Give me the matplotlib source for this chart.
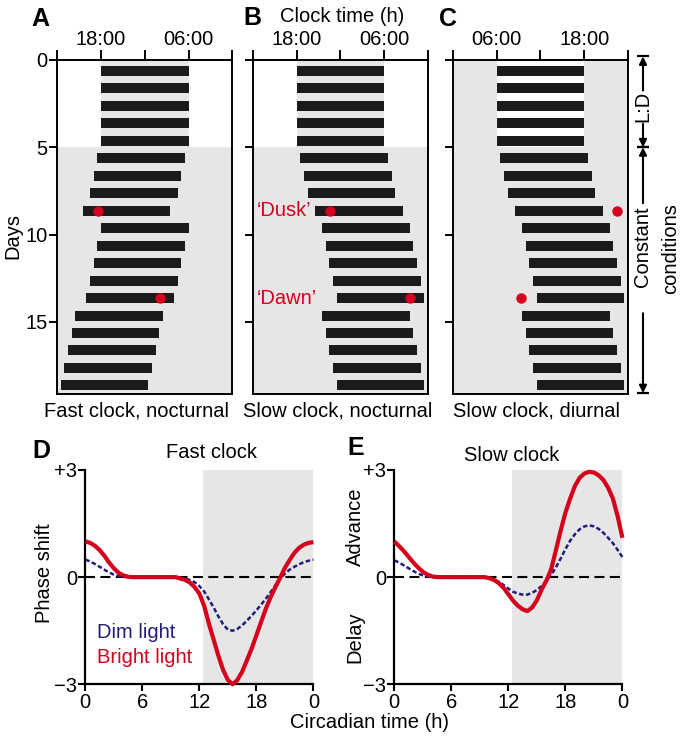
import numpy as np
import matplotlib.pyplot as plt
from matplotlib.transforms import blended_transform_factory

plt.rcParams['font.family'] = ['Liberation Sans', 'DejaVu Sans']
plt.rcParams['font.size'] = 14.5
plt.rcParams['axes.linewidth'] = 1.4

RED = '#d5001c'
NAVY = '#1f1f78'
GRAY = '#e6e6e6'
BAR = '#1b1b1b'

# ---- actogram data (clock hour of activity onset, one row per day) ----
days = np.arange(19)
onset_A = [18, 18, 18, 18, 18, 17.5, 17, 16.5, 15.5, 18, 17.5, 17, 16.5, 16,
           14.5, 14, 13.5, 13, 12.5]
onset_B = [18, 18, 18, 18, 18, 18.5, 19, 19.5, 20.5, 21.5, 22, 22.5, 23, 23.5,
           21.5, 22, 22.5, 23, 23.5]
onset_C = [6, 6, 6, 6, 6, 6.5, 7, 7.5, 8.5, 9.5, 10, 10.5, 11, 11.5,
           9.5, 10, 10.5, 11, 11.5]
active_len = 12        # hours of activity per day
pulse_days = [8, 13]
pulse_A = [17.6, 2.1]   # clock time of the light pulses
pulse_B = [22.6, 9.5]
pulse_C = [22.45, 9.3]
ld_days = 5

# ---- phase response curves ----
ct = np.arange(0, 24.5, 0.5)
prc_fast_bright = [1.0, 0.96, 0.88, 0.76, 0.6, 0.41, 0.25, 0.12, 0.05, 0.01,
                   0, 0, 0, 0, 0, 0, 0, 0, 0, 0,
                   -0.04, -0.08, -0.15, -0.28, -0.46, -0.8, -1.3, -1.75, -2.2, -2.6,
                   -2.88, -3.0, -2.88, -2.65, -2.33, -2.0, -1.63, -1.25, -0.88, -0.56,
                   -0.28, -0.02, 0.26, 0.48, 0.68, 0.82, 0.91, 0.96, 0.98]
prc_fast_dim = [0.49, 0.44, 0.37, 0.29, 0.21, 0.13, 0.07, 0.03, 0.01, 0,
                0, 0, 0, 0, 0, 0, 0, 0, 0, 0,
                -0.02, -0.04, -0.08, -0.14, -0.25, -0.4, -0.62, -0.85, -1.1, -1.32,
                -1.47, -1.5, -1.45, -1.35, -1.22, -1.08, -0.93, -0.77, -0.6, -0.42,
                -0.23, -0.04, 0.1, 0.21, 0.29, 0.36, 0.42, 0.46, 0.49]
prc_slow_bright = [1.0, 0.87, 0.73, 0.57, 0.41, 0.27, 0.15, 0.07, 0.02, 0,
                   0, 0, 0, 0, 0, 0, 0, 0, 0, 0,
                   -0.03, -0.08, -0.17, -0.3, -0.48, -0.66, -0.8, -0.9, -0.95, -0.85,
                   -0.65, -0.35, -0.1, 0.22, 0.75, 1.3, 1.8, 2.2, 2.55, 2.78,
                   2.9, 2.95, 2.93, 2.85, 2.72, 2.5, 2.2, 1.7, 1.1]
prc_slow_dim = [0.47, 0.41, 0.33, 0.25, 0.17, 0.1, 0.05, 0.02, 0, 0,
                0, 0, 0, 0, 0, 0, 0, 0, 0, 0,
                -0.03, -0.07, -0.13, -0.22, -0.32, -0.41, -0.46, -0.49, -0.49, -0.44,
                -0.36, -0.25, -0.1, 0.06, 0.27, 0.52, 0.78, 1.02, 1.2, 1.34,
                1.42, 1.45, 1.42, 1.35, 1.24, 1.1, 0.95, 0.76, 0.56]

fig = plt.figure(figsize=(6.83, 7.4), dpi=100)

YMAX = 19.12
ROW_OFF = 0.63
ROW_H = 0.57


def actogram(left, onsets, pulses, start_clock, xlabels, caption, cap_x, show_y):
    ax = fig.add_axes([left, 0.4676, 0.2568, 0.4514])
    x_on = (np.array(onsets) - start_clock) % 24
    ax.set_xlim(0, 24)
    ax.set_ylim(YMAX, 0)
    # light / dark background
    dark0 = (18 - start_clock) % 24
    dark1 = (6 - start_clock) % 24
    if dark0 < dark1:
        ax.fill_betweenx([0, ld_days], dark0, dark1, color=GRAY, lw=0, zorder=0)
    else:
        ax.fill_betweenx([0, ld_days], 0, dark1, color=GRAY, lw=0, zorder=0)
        ax.fill_betweenx([0, ld_days], dark0, 24, color=GRAY, lw=0, zorder=0)
    ax.axhspan(ld_days, YMAX, color=GRAY, lw=0, zorder=0)
    ax.barh(days + ROW_OFF, active_len, left=x_on, height=ROW_H, color=BAR, zorder=2)
    px = (np.array(pulses) - start_clock) % 24
    ax.plot(px, np.array(pulse_days) + ROW_OFF, 'o', color=RED, ms=6.5, zorder=3,
            clip_on=False)
    ax.xaxis.tick_top()
    ax.set_xticks([0, 6, 12, 18, 24])
    ax.set_xticklabels(xlabels)
    ax.tick_params(axis='x', length=7, width=1.4, pad=1)
    ax.set_yticks([0, 5, 10, 15])
    ax.tick_params(axis='y', length=6, width=1.4, pad=1)
    if not show_y:
        ax.set_yticklabels([])
    ax.text(cap_x, -0.051, caption, transform=ax.transAxes, ha='center', va='center')
    return ax


axA = actogram(0.0835, onset_A, pulse_A, 12, ['', '18:00', '', '06:00', ''],
               'Fast clock, nocturnal', 0.454, True)
fig.text(13 / 683, 1 - 236 / 740, 'Days', rotation=90, ha='center', va='center')

axB = actogram(0.370, onset_B, pulse_B, 12, ['', '18:00', '', '06:00', ''],
               'Slow clock, nocturnal', 0.483, False)
axB.text(0.5, pulse_days[0] + ROW_OFF, '\u2018Dusk\u2019', color=RED, ha='left',
         va='center', zorder=4)
axB.text(0.5, pulse_days[1] + ROW_OFF, '\u2018Dawn\u2019', color=RED, ha='left',
         va='center', zorder=4)

axC = actogram(0.6628, onset_C, pulse_C, 0, ['', '06:00', '', '18:00', ''],
               'Slow clock, diurnal', 0.477, False)

# bracket arrows on the right of C
tr = blended_transform_factory(axC.transAxes, axC.transData)
XA = 1.085


def arrow(y_from, y_to):
    axC.annotate('', xy=(XA, y_to), xytext=(XA, y_from), xycoords=tr, textcoords=tr,
                 arrowprops=dict(arrowstyle='-|>', color='black', lw=1.5,
                                 mutation_scale=11, shrinkA=0, shrinkB=0),
                 annotation_clip=False)
    axC.plot([XA], [y_to], marker='_', ms=9, mew=1.6, color='black', transform=tr,
             clip_on=False)


arrow(1.75, -0.2)
arrow(3.65, ld_days)
arrow(8.2, ld_days)
arrow(14.5, 19.07)
axC.text(XA, 2.63, 'L:D', rotation=90, ha='center', va='center', transform=tr)
axC.text(XA, 10.7, 'Constant', rotation=90, ha='center', va='center', transform=tr)
axC.text(1.243, 10.8, 'conditions', rotation=90, ha='center', va='center', transform=tr)

fig.text(341.7 / 683, 1 - 17 / 740, 'Clock time (h)', ha='center', va='center')


# ---- PRC panels ----
def prc(left, bright, dim):
    ax = fig.add_axes([left, 0.0753, 0.3340, 0.2896])
    ax.set_xlim(0, 24)
    ax.set_ylim(-3, 3)
    ax.axvspan(12.4, 24, color=GRAY, lw=0, zorder=0)
    ax.axhline(0, color='black', lw=1.5, ls=(0, (4.8, 2.6)), zorder=1)
    ax.plot(ct, dim, color=NAVY, lw=1.8, ls=(0, (1.8, 1.0)), zorder=2, clip_on=False)
    ax.plot(ct, bright, color=RED, lw=3.0, zorder=3, clip_on=False,
            solid_capstyle='butt')
    for s in ['top', 'right']:
        ax.spines[s].set_visible(False)
    ax.spines['left'].set_linewidth(1.6)
    ax.spines['bottom'].set_linewidth(1.6)
    ax.set_xticks([0, 6, 12, 18, 24])
    ax.set_xticklabels(['0', '6', '12', '18', '0'])
    ax.set_yticks([-3, 0, 3])
    ax.set_yticklabels(['\u22123', '0', '+3'])
    ax.tick_params(length=5, width=1.5, pad=1)
    return ax


axD = prc(0.1249, prc_fast_bright, prc_fast_dim)
fig.text(45 / 683, 1 - 573 / 740, 'Phase shift', rotation=90, ha='center', va='center')
axD.text(1.2, -1.54, 'Dim light', color=NAVY, ha='left', va='center')
axD.text(1.2, -2.26, 'Bright light', color=RED, ha='left', va='center')

axE = prc(0.5773, prc_slow_bright, prc_slow_dim)
fig.text(355 / 683, 1 - 527 / 740, 'Advance', rotation=90, ha='center', va='center')
fig.text(355 / 683, 1 - 637 / 740, 'Delay', rotation=90, ha='center', va='center')

fig.text(211 / 683, 1 - 453 / 740, 'Fast clock', ha='center', va='center')
fig.text(512 / 683, 1 - 455 / 740, 'Slow clock', ha='center', va='center')
fig.text(369 / 683, 1 - 722 / 740, 'Circadian time (h)', ha='center', va='center')

for letter, x, y in [('A', 40, 19), ('B', 252, 18), ('C', 448, 19),
                     ('D', 41, 451), ('E', 356, 448)]:
    fig.text(x / 683, 1 - y / 740, letter, fontsize=18, fontweight='bold',
             ha='center', va='center')

fig.savefig('out.png', dpi=100)
